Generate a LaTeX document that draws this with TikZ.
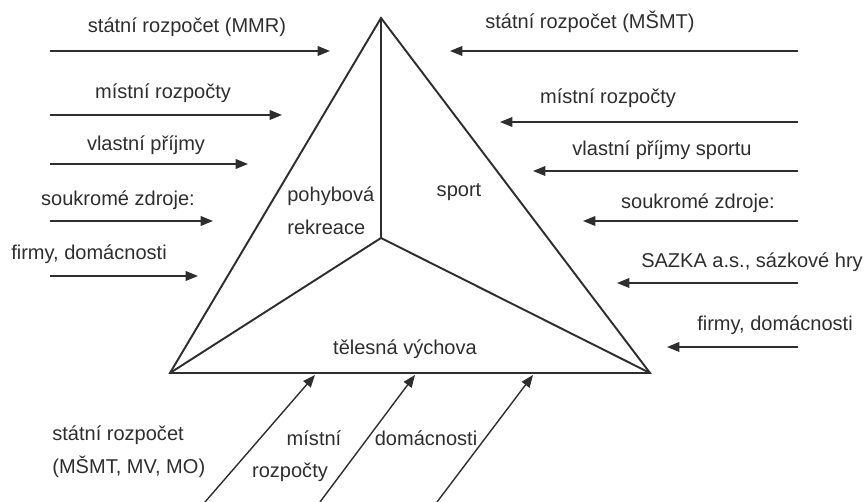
\documentclass[tikz,border=0pt]{standalone}
\usepackage{fontspec}
\setmainfont{Liberation Sans}
\usepackage{xcolor}
\usepackage{tikz}
\usetikzlibrary{arrows.meta}
\definecolor{fink}{HTML}{2E2E2E}

\begin{document}
\begin{tikzpicture}[
  x=0.02cm, y=-0.02cm,
  font=\fontsize{11.4}{19}\selectfont, text=fink,
  edge/.style={draw=fink, line width=1.1pt, line join=miter},
  flow/.style={draw=fink, line width=0.8pt, -{Triangle[length=7pt, width=5.5pt]}},
  lbl/.style={inner sep=0pt},
  ]
  \useasboundingbox (0,0) rectangle (865,502);

  \coordinate (top) at (381,18);
  \coordinate (left) at (170,373);
  \coordinate (right) at (650,373);
  \coordinate (mid) at (381,238);
  \draw[edge] (top) -- (left) -- (right) -- cycle;
  \draw[edge] (top) -- (mid) (left) -- (mid) -- (right);

  \node[lbl, align=left, anchor=west] (rek) at (287,211) {pohybová\\rekreace};
  \node[lbl] (spo) at (459,192) {sport};
  \node[lbl] (tel) at (405,349) {tělesná výchova};

  % left side: into pohybova rekreace
  \foreach \n/\y/\xe in {a/51/330, b/115/282, c/164/248, d/221/213, e/276/198} {
    \coordinate (\n0) at (50,\y);
    \coordinate (\n1) at (\xe,\y);
    \draw[flow] (\n0) -- (\n1);
  }
  \node[lbl] (la) at (187,27) {státní rozpočet (MMR)};
  \node[lbl] (lb) at (163,93) {místní rozpočty};
  \node[lbl] (lc) at (146,145) {vlastní příjmy};
  \node[lbl] (ld) at (118,200) {soukromé zdroje:};
  \node[lbl] (le) at (89,254) {firmy, domácnosti};

  % right side: into sport
  \foreach \n/\y/\xe in {f/51/450, g/122/500, h/171/533, i/221/583, j/283/617, k/347/667} {
    \coordinate (\n0) at (798,\y);
    \coordinate (\n1) at (\xe,\y);
    \draw[flow] (\n0) -- (\n1);
  }
  \node[lbl] (rf) at (590,22) {státní rozpočet (MŠMT)};
  \node[lbl] (rg) at (608,98) {místní rozpočty};
  \node[lbl] (rh) at (662,150) {vlastní příjmy sportu};
  \node[lbl] (ri) at (698,203) {soukromé zdroje:};
  \node[lbl] (rj) at (752,262) {SAZKA a.s., sázkové hry};
  \node[lbl] (rk) at (775,325) {firmy, domácnosti};

  % bottom: into telesna vychova
  \foreach \n/\xs/\xe in {p/205/315, q/320/415, r/437/533} {
    \coordinate (\n0) at (\xs,502);
    \coordinate (\n1) at (\xe,375);
    \draw[flow] (\n0) -- (\n1);
  }
  \node[lbl, align=left, anchor=west] (bp) at (52,452) {státní rozpočet\\(MŠMT, MV, MO)};
  \node[lbl] (bq1) at (314,438) {místní};
  \node[lbl] (bq2) at (290,472) {rozpočty};
  \node[lbl] (br) at (426,438) {domácnosti};
\end{tikzpicture}
\end{document}
